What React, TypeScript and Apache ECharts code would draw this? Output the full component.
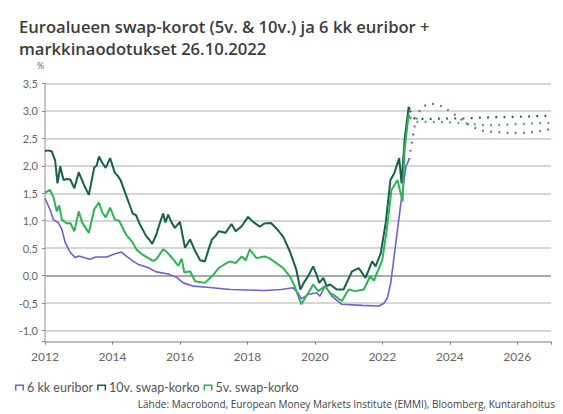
import React, { useEffect, useRef } from "react";
import * as echarts from "echarts";

// History, [decimal year, %]
const euribor6m: [number, number][] = [
  [2012.0, 1.41], [2012.15, 1.2], [2012.25, 1.02], [2012.4, 0.96], [2012.5, 0.84], [2012.6, 0.6],
  [2012.75, 0.42], [2012.9, 0.33], [2013.0, 0.36], [2013.33, 0.3], [2013.5, 0.34], [2013.83, 0.34],
  [2014.03, 0.39], [2014.27, 0.43], [2014.4, 0.36], [2014.6, 0.27], [2014.75, 0.21], [2015.05, 0.15],
  [2015.3, 0.07], [2015.65, 0.03], [2015.9, -0.03], [2016.1, -0.13], [2016.4, -0.19], [2016.8, -0.21],
  [2017.5, -0.25], [2018.5, -0.27], [2019.0, -0.25], [2019.35, -0.22], [2019.5, -0.31], [2019.6, -0.42],
  [2019.8, -0.34], [2020.05, -0.31], [2020.15, -0.37], [2020.3, -0.19], [2020.5, -0.37], [2020.8, -0.52],
  [2021.4, -0.54], [2021.9, -0.55], [2022.05, -0.5], [2022.15, -0.4], [2022.25, -0.13], [2022.4, 0.6],
  [2022.55, 1.32], [2022.7, 1.99], [2022.79, 2.11],
];

const swap10y: [number, number][] = [
  [2012.0, 2.27], [2012.1, 2.28], [2012.2, 2.26], [2012.3, 2.1], [2012.37, 1.68], [2012.45, 1.99],
  [2012.55, 1.74], [2012.65, 1.76], [2012.75, 1.75], [2012.87, 1.59], [2013.0, 1.88], [2013.15, 1.66],
  [2013.3, 1.47], [2013.46, 1.97], [2013.53, 2.0], [2013.6, 2.17], [2013.7, 2.05], [2013.8, 1.96],
  [2013.93, 2.14], [2014.07, 1.87], [2014.15, 1.82], [2014.24, 1.74], [2014.4, 1.47], [2014.5, 1.3],
  [2014.6, 1.13], [2014.7, 1.1], [2014.8, 0.95], [2015.0, 0.72], [2015.1, 0.65], [2015.18, 0.58],
  [2015.3, 0.75], [2015.4, 0.95], [2015.5, 1.13], [2015.57, 0.97], [2015.65, 1.11], [2015.75, 0.97],
  [2015.85, 0.87], [2016.0, 0.98], [2016.15, 0.51], [2016.3, 0.66], [2016.45, 0.45], [2016.6, 0.28],
  [2016.74, 0.26], [2016.85, 0.48], [2016.95, 0.66], [2017.05, 0.72], [2017.15, 0.81], [2017.35, 0.78],
  [2017.53, 0.94], [2017.65, 0.81], [2017.83, 0.9], [2018.02, 1.07], [2018.17, 0.98], [2018.37, 0.89],
  [2018.5, 0.95], [2018.7, 0.96], [2018.86, 0.86], [2019.06, 0.71], [2019.26, 0.44], [2019.45, 0.11],
  [2019.57, -0.25], [2019.67, -0.13], [2019.8, -0.01], [2019.95, 0.17], [2020.05, 0.02], [2020.13, -0.13],
  [2020.25, -0.04], [2020.35, -0.19], [2020.45, -0.16], [2020.65, -0.25], [2020.85, -0.25], [2021.1, 0.08],
  [2021.3, 0.14], [2021.5, -0.04], [2021.7, 0.26], [2021.8, 0.17], [2021.95, 0.4], [2022.1, 0.96],
  [2022.24, 1.74], [2022.35, 1.86], [2022.5, 2.14], [2022.57, 1.68], [2022.66, 2.47], [2022.78, 3.07],
  [2022.82, 3.02],
];

const swap5y: [number, number][] = [
  [2012.0, 1.51], [2012.15, 1.56], [2012.25, 1.43], [2012.35, 1.17], [2012.42, 1.28], [2012.5, 1.02],
  [2012.65, 0.95], [2012.75, 0.96], [2012.87, 0.81], [2013.0, 1.17], [2013.1, 0.97], [2013.3, 0.78],
  [2013.46, 1.21], [2013.6, 1.33], [2013.7, 1.15], [2013.8, 1.06], [2013.93, 1.24], [2014.07, 1.02],
  [2014.2, 1.0], [2014.4, 0.75], [2014.6, 0.6], [2014.72, 0.47], [2014.88, 0.39], [2015.2, 0.27],
  [2015.3, 0.3], [2015.5, 0.48], [2015.6, 0.44], [2015.8, 0.3], [2015.95, 0.18], [2016.05, 0.31],
  [2016.13, 0.06], [2016.3, 0.08], [2016.45, -0.1], [2016.74, -0.13], [2016.95, -0.01], [2017.15, 0.14],
  [2017.3, 0.2], [2017.48, 0.26], [2017.65, 0.23], [2017.83, 0.35], [2017.95, 0.28], [2018.07, 0.48],
  [2018.27, 0.32], [2018.5, 0.35], [2018.65, 0.32], [2018.86, 0.23], [2019.06, 0.14], [2019.26, -0.01],
  [2019.4, -0.19], [2019.6, -0.52], [2019.75, -0.37], [2019.95, -0.16], [2020.1, -0.28], [2020.3, -0.19],
  [2020.45, -0.31], [2020.6, -0.37], [2020.8, -0.46], [2021.0, -0.25], [2021.2, -0.28], [2021.45, -0.25],
  [2021.64, -0.01], [2021.75, -0.09], [2022.0, 0.29], [2022.13, 0.83], [2022.27, 1.56], [2022.45, 1.74],
  [2022.6, 1.35], [2022.66, 2.29], [2022.78, 2.93], [2022.82, 2.86],
];

// Market expectations (26.10.2022)
const euribor6mFwd: [number, number][] = [
  [2022.79, 2.11], [2022.87, 2.4], [2022.95, 2.7], [2023.05, 2.95], [2023.2, 3.08], [2023.43, 3.13],
  [2023.67, 3.11], [2023.87, 3.04], [2024.1, 2.95], [2024.3, 2.86], [2024.5, 2.77], [2024.7, 2.7],
  [2024.94, 2.64], [2025.2, 2.62], [2025.45, 2.61], [2025.7, 2.6], [2025.95, 2.6], [2026.2, 2.6],
  [2026.45, 2.61], [2026.8, 2.64], [2027.0, 2.67],
];
const swap10yFwd: [number, number][] = [
  [2022.82, 3.0], [2022.9, 2.88], [2023.0, 2.85], [2024.0, 2.86], [2024.5, 2.86], [2025.0, 2.88],
  [2026.0, 2.89], [2027.0, 2.91],
];
const swap5yFwd: [number, number][] = [
  [2022.82, 2.88], [2022.9, 2.82], [2023.0, 2.8], [2024.0, 2.79], [2024.5, 2.77], [2025.0, 2.74],
  [2025.5, 2.74], [2026.0, 2.76], [2027.0, 2.78],
];

const seriesNames = ["6 kk euribor", "10v. swap-korko", "5v. swap-korko"];
const seriesColors = ["#6e5fd2", "#17604c", "#2eb551"];
const titleText = "Euroalueen swap-korot (5v. & 10v.) ja 6 kk euribor +\nmarkkinaodotukset 26.10.2022";
const sourceText = "Lähde: Macrobond, European Money Markets Institute (EMMI), Bloomberg, Kuntarahoitus";

const FONT = "Lato, 'Open Sans', sans-serif";
const TITLE_FONT = "'Open Sans', sans-serif";

export default function App() {
  const ref = useRef<HTMLDivElement>(null);
  useEffect(() => {
    if (!ref.current) return;
    const chart = echarts.init(ref.current, undefined, { renderer: "svg" });
    const dotted = (color: string, width = 2.2) => ({
      color,
      width,
      type: [1.8, 6.4] as any,
      cap: "butt" as any,
    });
    chart.setOption({
      animation: false,
      textStyle: { fontFamily: FONT },
      title: {
        text: titleText,
        left: 14,
        top: 10,
        textStyle: { fontSize: 16.6, fontWeight: 600, color: "#3c3c3c", lineHeight: 22, fontFamily: TITLE_FONT },
      },
      grid: { left: 45, right: 12, top: 83.3, bottom: 72.3 },
      legend: {
        data: seriesNames,
        left: 10,
        top: 376,
        itemWidth: 9,
        itemHeight: 6,
        itemGap: 4,
        icon: "path://M0,0H12V8H10V2H2V8H0Z",
        textStyle: { fontSize: 12.5, color: "#555", padding: [0, 0, 0, -2], fontFamily: FONT },
      },
      xAxis: {
        type: "value",
        min: 2012,
        max: 2027,
        interval: 2,
        axisLine: { onZero: false, lineStyle: { color: "#b5b5b5", width: 1.5 } },
        axisTick: { show: true, length: 3, lineStyle: { color: "#888" } },
        splitLine: { show: false },
        axisLabel: {
          color: "#666",
          fontSize: 12,
          margin: 9,
          formatter: (v: number) => (v > 2026.5 ? "" : String(v)),
        },
      },
      yAxis: {
        type: "value",
        min: -1.2,
        max: 3.5,
        splitNumber: 9,
        axisLine: { show: true, lineStyle: { color: "#b5b5b5", width: 1.5 } },
        axisTick: { show: true, length: 3, lineStyle: { color: "#888" } },
        splitLine: { lineStyle: { color: "#d6d6d6", width: 2 } },
        axisLabel: {
          color: "#666",
          fontSize: 11,
          margin: 7,
          formatter: (v: number) => (v < -1.05 ? "" : v.toFixed(1).replace(".", ",")),
        },
      },
      graphic: [
        { type: "text", left: 37, top: 61, style: { text: "%", fontSize: 9, fill: "#666", fontFamily: FONT } },
        {
          type: "text",
          right: 8,
          top: 399,
          style: { text: sourceText, fontSize: 10, fill: "#444", fontFamily: TITLE_FONT },
        },
      ],
      series: [
        {
          name: seriesNames[0],
          type: "line",
          data: euribor6m,
          showSymbol: false,
          lineStyle: { color: seriesColors[0], width: 1.6 },
          itemStyle: { color: seriesColors[0] },
          z: 3,
          markLine: {
            silent: true,
            symbol: "none",
            label: { show: false },
            lineStyle: { color: "#9a9a9a", width: 1.5, type: "solid" },
            data: [{ yAxis: 0 }],
            z: 1,
          },
        },
        {
          name: seriesNames[1],
          type: "line",
          data: swap10y,
          showSymbol: false,
          lineStyle: { color: seriesColors[1], width: 2 },
          itemStyle: { color: seriesColors[1] },
          z: 4,
        },
        {
          name: seriesNames[2],
          type: "line",
          data: swap5y,
          showSymbol: false,
          lineStyle: { color: seriesColors[2], width: 2 },
          itemStyle: { color: seriesColors[2] },
          z: 5,
        },
        {
          name: "euribor-fwd",
          type: "line",
          data: euribor6mFwd,
          showSymbol: false,
          lineStyle: dotted(seriesColors[0]),
          z: 3,
        },
        {
          name: "10v-fwd",
          type: "line",
          data: swap10yFwd,
          showSymbol: false,
          lineStyle: dotted(seriesColors[1]),
          z: 4,
        },
        {
          name: "5v-fwd",
          type: "line",
          data: swap5yFwd,
          showSymbol: false,
          lineStyle: dotted(seriesColors[2]),
          z: 5,
        },
      ],
    });
    return () => chart.dispose();
  }, []);
  return (
    <div
      ref={ref}
      style={{ position: "absolute", left: 0, top: 0, width: 563, height: 414, background: "#fff" }}
    />
  );
}
